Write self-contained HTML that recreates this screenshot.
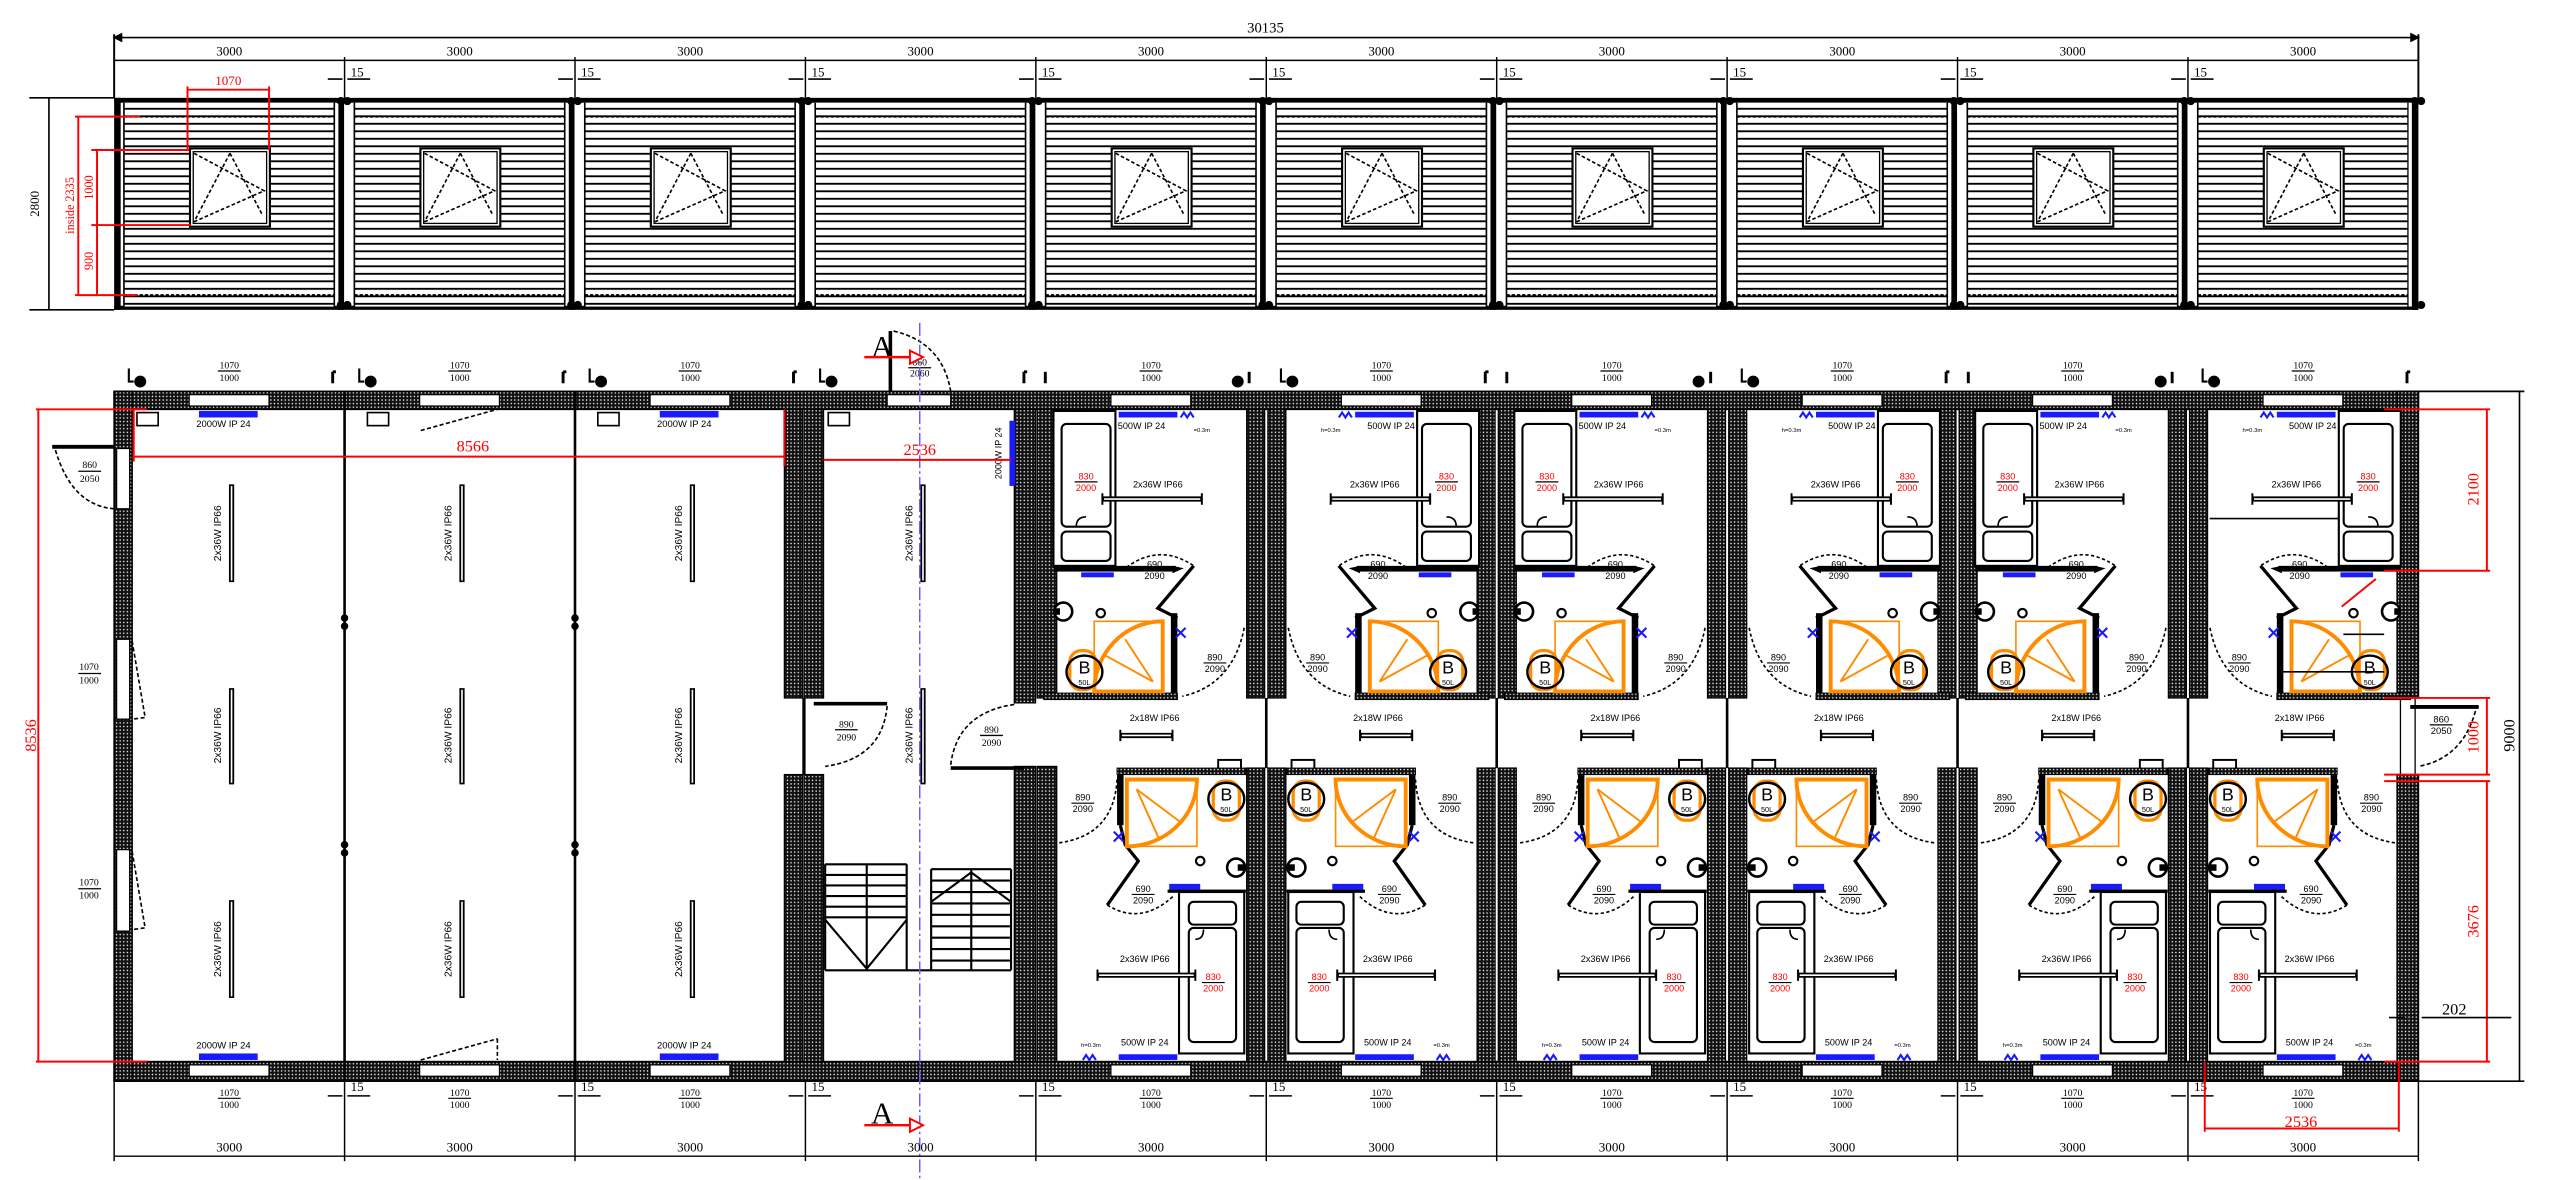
<!DOCTYPE html>
<html><head><meta charset="utf-8"><style>
html,body{margin:0;padding:0;background:#fff;}
svg{display:block;}
.s{font-family:"Liberation Serif",serif;}
.a{font-family:"Liberation Sans",sans-serif;}
</style></head><body>
<svg width="2557" height="1180" viewBox="0 0 1568 723.6" preserveAspectRatio="none" xmlns="http://www.w3.org/2000/svg">
<defs>
<pattern id="wd" width="2.2" height="2.2" patternUnits="userSpaceOnUse"><rect width="2.2" height="2.2" fill="#111"/><circle cx="1.1" cy="1.1" r="0.45" fill="#fff"/></pattern>
<pattern id="hl" width="10" height="4.6" patternUnits="userSpaceOnUse"><rect width="10" height="4.6" fill="#fff"/><line x1="0" y1="2.3" x2="10" y2="2.3" stroke="#000" stroke-width="1.1"/></pattern>
<g id="em">
<rect x="76" y="63" width="129" height="125" fill="url(#hl)"/>
<line x1="76" y1="71.5" x2="205" y2="71.5" stroke="#000" stroke-width="1.3" stroke-dasharray="2,1.2"/>
<line x1="76" y1="181" x2="205" y2="181" stroke="#000" stroke-width="1.3" stroke-dasharray="2,1.2"/>
<line x1="76" y1="63" x2="76" y2="188" stroke="#000" stroke-width="1"/>
<line x1="205" y1="63" x2="205" y2="188" stroke="#000" stroke-width="1"/>
<rect x="207.5" y="60" width="3.5" height="130" fill="#000"/>
<circle cx="209" cy="62" r="2.5" fill="#000"/><circle cx="209" cy="187" r="2.5" fill="#000"/>
<circle cx="213" cy="62" r="2.5" fill="#000"/><circle cx="213" cy="187" r="2.5" fill="#000"/>
</g>
<g id="win">
<rect x="116.5" y="91" width="49" height="48" fill="#fff" stroke="#000" stroke-width="1.3"/>
<rect x="118.5" y="93" width="45" height="44" fill="#fff" stroke="#000" stroke-width="0.8"/>
<g stroke="#000" stroke-width="1" stroke-dasharray="2.2,1.4" fill="none">
<path d="M141,94 L119,136 M141,94 L161,132 M119,94 L162,117 L119,136"/>
</g>
</g>
<g id="fx"><rect x="0" y="-1.3" width="1" height="2.6" fill="#fff" stroke="#000" stroke-width="1"/></g>
<g id="pod">
<!-- upper -->
<rect x="646" y="252" width="38" height="95" fill="#fff" stroke="#000" stroke-width="1.3"/>
<rect x="651" y="260" width="30" height="63" rx="3" fill="none" stroke="#000" stroke-width="1.3"/>
<rect x="651" y="326" width="30" height="18" rx="3" fill="none" stroke="#000" stroke-width="1.3"/>
<path d="M660,323 q0,-6 6,-6" fill="none" stroke="#000" stroke-width="1"/>
<rect x="686" y="252.5" width="36" height="3.5" fill="#1a1aff"/>
<path d="M724,256 l2,-3 l2,3 l2,-3 l2,3" fill="none" stroke="#1a1aff" stroke-width="1.3"/>
<rect x="646" y="347" width="75" height="3.5" fill="#000"/>
<path d="M719,347 l7,1.5 l-7,3 z" fill="#000"/>
<rect x="663" y="351" width="20" height="3" fill="#1a1aff"/>
<rect x="718" y="376" width="4" height="52" fill="#000"/>
<rect x="640" y="425" width="82" height="4" fill="url(#wd)" stroke="#000" stroke-width="0.6"/>
<polyline points="722,379 710,373 732,347" fill="none" stroke="#000" stroke-width="2"/>
<path d="M688,350 Q710,332 732,347" fill="none" stroke="#000" stroke-width="1" stroke-dasharray="2,1.5"/>
<circle cx="652" cy="375" r="5.5" fill="#fff" stroke="#000" stroke-width="1.6"/>
<rect x="646" y="373" width="4" height="4" fill="#000"/>
<circle cx="675" cy="376" r="2.6" fill="none" stroke="#000" stroke-width="1.3"/>
<rect x="671" y="381" width="42" height="43" fill="none" stroke="#ff8c00" stroke-width="1"/>
<path d="M713,424 L671,424 A42,43 0 0 1 713,381 Z" fill="none" stroke="#ff8c00" stroke-width="2.4"/>
<path d="M707,418 L690,392 M707,418 L678,402" stroke="#ff8c00" stroke-width="1.2"/>
<rect x="656" y="399" width="16" height="24" rx="7" fill="none" stroke="#ff8c00" stroke-width="2"/>
<ellipse cx="665" cy="412" rx="11" ry="10" fill="none" stroke="#000" stroke-width="1.5"/>
<path d="M721,385 l6,6 M727,385 l-6,6" stroke="#1a1aff" stroke-width="1.3"/>
<path d="M763,385 Q756,420 725,427" fill="none" stroke="#000" stroke-width="1" stroke-dasharray="2,1.5"/>
<line x1="676" y1="306" x2="737" y2="306" stroke="#000" stroke-width="3.2"/>
<line x1="677" y1="306" x2="736" y2="306" stroke="#fff" stroke-width="1"/>
<path d="M676,302.5 v7 M737,302.5 v7" stroke="#000" stroke-width="1.2"/>
<!-- corridor fixture -->
<line x1="687" y1="451" x2="719" y2="451" stroke="#000" stroke-width="3.2"/>
<line x1="688" y1="451" x2="718" y2="451" stroke="#fff" stroke-width="1"/>
<path d="M687,447.5 v7 M719,447.5 v7" stroke="#000" stroke-width="1.2"/>
<!-- lower -->
<rect x="747" y="466" width="14" height="6" fill="#fff" stroke="#000" stroke-width="1.2"/>
<rect x="685" y="471" width="79" height="4" fill="url(#wd)" stroke="#000" stroke-width="0.6"/>
<rect x="685" y="475" width="4" height="31" fill="#000"/>
<polyline points="687,506 690,518 698,528 679,555" fill="none" stroke="#000" stroke-width="2"/>
<path d="M679,555 Q700,568 720,549" fill="none" stroke="#000" stroke-width="1" stroke-dasharray="2,1.5"/>
<rect x="691" y="478" width="43" height="41" fill="none" stroke="#ff8c00" stroke-width="1"/>
<path d="M691,478 L734,478 A43,41 0 0 1 691,519 Z" fill="none" stroke="#ff8c00" stroke-width="2.4"/>
<path d="M697,484 L725,505 M697,484 L711,515" stroke="#ff8c00" stroke-width="1.2"/>
<rect x="744" y="479" width="16" height="24" rx="7" fill="none" stroke="#ff8c00" stroke-width="2"/>
<ellipse cx="752" cy="490" rx="11" ry="10" fill="none" stroke="#000" stroke-width="1.5"/>
<circle cx="758" cy="532" r="5.5" fill="#fff" stroke="#000" stroke-width="1.6"/>
<rect x="759" y="530" width="4" height="4" fill="#000"/>
<circle cx="736" cy="528" r="2.6" fill="none" stroke="#000" stroke-width="1.3"/>
<path d="M683,510 l6,6 M689,510 l-6,6" stroke="#1a1aff" stroke-width="1.3"/>
<rect x="717" y="542" width="19" height="3.5" fill="#1a1aff"/>
<rect x="716" y="545.5" width="48" height="2" fill="#000"/>
<rect x="723" y="547" width="40" height="99" fill="#fff" stroke="#000" stroke-width="1.3"/>
<rect x="729" y="553" width="29" height="14" rx="3" fill="none" stroke="#000" stroke-width="1.3"/>
<rect x="729" y="569" width="29" height="70" rx="3" fill="none" stroke="#000" stroke-width="1.3"/>
<path d="M738,570 q0,6 -5,6" fill="none" stroke="#000" stroke-width="1"/>
<path d="M685,478 Q683,513 648,517" fill="none" stroke="#000" stroke-width="1" stroke-dasharray="2,1.5"/>
<line x1="673" y1="598" x2="733" y2="598" stroke="#000" stroke-width="3.2"/>
<line x1="674" y1="598" x2="732" y2="598" stroke="#fff" stroke-width="1"/>
<path d="M673,594.5 v7 M733,594.5 v7" stroke="#000" stroke-width="1.2"/>
<rect x="686" y="646.5" width="36" height="3.5" fill="#1a1aff"/>
<path d="M664,650 l2,-3 l2,3 l2,-3 l2,3" fill="none" stroke="#1a1aff" stroke-width="1.3"/>
</g>
<marker id="ar" markerWidth="6" markerHeight="6" refX="5" refY="3" orient="auto"><path d="M0,0 L6,3 L0,6 z" fill="#000"/></marker>
<marker id="al" markerWidth="6" markerHeight="6" refX="1" refY="3" orient="auto"><path d="M6,0 L0,3 L6,6 z" fill="#000"/></marker>
<marker id="rr" markerWidth="6" markerHeight="6" refX="5" refY="3" orient="auto"><path d="M0,0 L6,3 L0,6 z" fill="#f00"/></marker>
<marker id="rl" markerWidth="6" markerHeight="6" refX="1" refY="3" orient="auto"><path d="M6,0 L0,3 L6,6 z" fill="#f00"/></marker>
</defs>

<!-- ============ TOP DIMENSIONS ============ -->
<text x="776" y="20" class="s" font-size="9" text-anchor="middle">30135</text>
<line x1="70" y1="23" x2="1483" y2="23" stroke="#000" stroke-width="1" marker-start="url(#al)" marker-end="url(#ar)"/>
<line x1="70" y1="21" x2="70" y2="60" stroke="#000" stroke-width="1.2"/>
<line x1="1483" y1="21" x2="1483" y2="60" stroke="#000" stroke-width="1.2"/>
<g stroke="#000" stroke-width="0.9">
<line x1="70" y1="37" x2="1483" y2="37"/>
<line x1="211.3" y1="35" x2="211.3" y2="60"/><line x1="352.6" y1="35" x2="352.6" y2="60"/><line x1="493.9" y1="35" x2="493.9" y2="60"/><line x1="635.2" y1="35" x2="635.2" y2="60"/><line x1="776.5" y1="35" x2="776.5" y2="60"/><line x1="917.8" y1="35" x2="917.8" y2="60"/><line x1="1059.1" y1="35" x2="1059.1" y2="60"/><line x1="1200.4" y1="35" x2="1200.4" y2="60"/><line x1="1341.7" y1="35" x2="1341.7" y2="60"/>
</g>
<g class="s" font-size="8" text-anchor="middle">
<text x="140.6" y="34">3000</text><text x="281.9" y="34">3000</text><text x="423.2" y="34">3000</text><text x="564.5" y="34">3000</text><text x="705.8" y="34">3000</text><text x="847.1" y="34">3000</text><text x="988.4" y="34">3000</text><text x="1129.7" y="34">3000</text><text x="1271" y="34">3000</text><text x="1412.3" y="34">3000</text>
</g>
<g class="s" font-size="8" text-anchor="middle">
<text x="219" y="47">15</text><text x="360.3" y="47">15</text><text x="501.6" y="47">15</text><text x="642.9" y="47">15</text><text x="784.2" y="47">15</text><text x="925.5" y="47">15</text><text x="1066.8" y="47">15</text><text x="1208.1" y="47">15</text><text x="1349.4" y="47">15</text>
</g>
<g stroke="#000" stroke-width="1">
<path d="M201,48.5 h9 M213,48.5 h14"/><path d="M342.3,48.5 h9 M354.3,48.5 h14"/><path d="M483.6,48.5 h9 M495.6,48.5 h14"/><path d="M624.9,48.5 h9 M636.9,48.5 h14"/><path d="M766.2,48.5 h9 M778.2,48.5 h14"/><path d="M907.5,48.5 h9 M919.5,48.5 h14"/><path d="M1048.8,48.5 h9 M1060.8,48.5 h14"/><path d="M1190.1,48.5 h9 M1202.1,48.5 h14"/><path d="M1331.4,48.5 h9 M1343.4,48.5 h14"/>
</g>

<!-- ============ ELEVATION ============ -->
<rect x="70" y="60" width="1413" height="3" fill="#000"/>
<rect x="70" y="187.5" width="1413" height="2.5" fill="#000"/>
<rect x="70" y="60" width="4" height="130" fill="#000"/>
<rect x="1479" y="60" width="4" height="130" fill="#000"/>
<use href="#em"/>
<use href="#em" transform="translate(141.3,0)"/>
<use href="#em" transform="translate(282.6,0)"/>
<use href="#em" transform="translate(423.9,0)"/>
<use href="#em" transform="translate(565.2,0)"/>
<use href="#em" transform="translate(706.5,0)"/>
<use href="#em" transform="translate(847.8,0)"/>
<use href="#em" transform="translate(989.1,0)"/>
<use href="#em" transform="translate(1130.4,0)"/>
<use href="#em" transform="translate(1271.7,0)"/>
<rect x="1477" y="63" width="6" height="125" fill="#fff"/>
<rect x="1479" y="60" width="4" height="130" fill="#000"/>
<use href="#win"/>
<use href="#win" transform="translate(141.3,0)"/>
<use href="#win" transform="translate(282.6,0)"/>
<use href="#win" transform="translate(565.2,0)"/>
<use href="#win" transform="translate(706.5,0)"/>
<use href="#win" transform="translate(847.8,0)"/>
<use href="#win" transform="translate(989.1,0)"/>
<use href="#win" transform="translate(1130.4,0)"/>
<use href="#win" transform="translate(1271.7,0)"/>
<!-- elevation dims -->
<line x1="30" y1="60" x2="30" y2="190" stroke="#000" stroke-width="1"/>
<line x1="18" y1="60" x2="70" y2="60" stroke="#000" stroke-width="1"/>
<line x1="18" y1="190" x2="70" y2="190" stroke="#000" stroke-width="1"/>
<text transform="translate(24,125) rotate(-90)" class="s" font-size="8" text-anchor="middle">2800</text>
<g stroke="#f00" stroke-width="1.2" fill="none">
<path d="M115,92 V53 M165,92 V53 M115,55 H165"/>
<path d="M46,71.5 H86 M56,92 H116 M56,138 H117 M46,181 H84"/>
<path d="M48,71.5 V181 M59.5,92 V181"/>
</g>
<text x="140" y="52" class="s" font-size="8" fill="#f00" text-anchor="middle">1070</text>
<text transform="translate(45.5,126) rotate(-90)" class="s" font-size="7.5" fill="#f00" text-anchor="middle">inside 2335</text>
<text transform="translate(57,115) rotate(-90)" class="s" font-size="7.5" fill="#f00" text-anchor="middle">1000</text>
<text transform="translate(57,160) rotate(-90)" class="s" font-size="7.5" fill="#f00" text-anchor="middle">900</text>

<!-- ============ PLAN ============ -->
<!-- outer walls -->
<rect x="70" y="240" width="1413" height="11" fill="url(#wd)" stroke="#000" stroke-width="1"/>
<rect x="70" y="651" width="1413" height="12" fill="url(#wd)" stroke="#000" stroke-width="1"/>
<rect x="70" y="240" width="11" height="423" fill="url(#wd)" stroke="#000" stroke-width="1"/>
<rect x="1470" y="240" width="13" height="188" fill="url(#wd)" stroke="#000" stroke-width="1"/>
<rect x="1470" y="475" width="13" height="188" fill="url(#wd)" stroke="#000" stroke-width="1"/>
<!-- stair walls -->
<rect x="481" y="251" width="11" height="177" fill="url(#wd)" stroke="#000" stroke-width="0.8"/>
<rect x="493" y="251" width="12" height="177" fill="url(#wd)" stroke="#000" stroke-width="0.8"/>
<rect x="481" y="475" width="11" height="176" fill="url(#wd)" stroke="#000" stroke-width="0.8"/>
<rect x="493" y="475" width="12" height="176" fill="url(#wd)" stroke="#000" stroke-width="0.8"/>
<rect x="492" y="428" width="2" height="47" fill="#000"/>
<rect x="622" y="251" width="13" height="180" fill="url(#wd)" stroke="#000" stroke-width="0.8"/>
<rect x="636" y="251" width="12" height="177" fill="url(#wd)" stroke="#000" stroke-width="0.8"/>
<rect x="622" y="470" width="13" height="181" fill="url(#wd)" stroke="#000" stroke-width="0.8"/>
<rect x="636" y="470" width="12" height="181" fill="url(#wd)" stroke="#000" stroke-width="0.8"/>
<!-- thick module walls -->
<g fill="url(#wd)" stroke="#000" stroke-width="0.8">
<rect x="764.5" y="251" width="11" height="177"/><rect x="777.5" y="251" width="11" height="177"/><rect x="764.5" y="471" width="11" height="180"/><rect x="777.5" y="471" width="11" height="180"/>
<rect x="905.8" y="251" width="11" height="177"/><rect x="918.8" y="251" width="11" height="177"/><rect x="905.8" y="471" width="11" height="180"/><rect x="918.8" y="471" width="11" height="180"/>
<rect x="1047.1" y="251" width="11" height="177"/><rect x="1060.1" y="251" width="11" height="177"/><rect x="1047.1" y="471" width="11" height="180"/><rect x="1060.1" y="471" width="11" height="180"/>
<rect x="1188.4" y="251" width="11" height="177"/><rect x="1201.4" y="251" width="11" height="177"/><rect x="1188.4" y="471" width="11" height="180"/><rect x="1201.4" y="471" width="11" height="180"/>
<rect x="1329.7" y="251" width="11" height="177"/><rect x="1342.7" y="251" width="11" height="177"/><rect x="1329.7" y="471" width="11" height="180"/><rect x="1342.7" y="471" width="11" height="180"/>
</g>
<g stroke="#000" stroke-width="1.6">
<line x1="211.3" y1="240" x2="211.3" y2="663"/><line x1="352.6" y1="240" x2="352.6" y2="663"/>
<line x1="776.5" y1="428" x2="776.5" y2="471"/><line x1="917.8" y1="428" x2="917.8" y2="471"/><line x1="1059.1" y1="428" x2="1059.1" y2="471"/><line x1="1200.4" y1="428" x2="1200.4" y2="471"/><line x1="1341.7" y1="428" x2="1341.7" y2="471"/>
</g>
<g fill="#000">
<circle cx="211.3" cy="379" r="2.3"/><circle cx="211.3" cy="384" r="2.3"/><circle cx="211.3" cy="518" r="2.3"/><circle cx="211.3" cy="523" r="2.3"/>
<circle cx="352.6" cy="379" r="2.3"/><circle cx="352.6" cy="384" r="2.3"/><circle cx="352.6" cy="518" r="2.3"/><circle cx="352.6" cy="523" r="2.3"/>
</g>
<!-- top wall windows -->
<g fill="#fff" stroke="#000" stroke-width="0.8">
<rect x="116" y="242" width="49" height="7"/><rect x="257.3" y="242" width="49" height="7"/><rect x="398.6" y="242" width="49" height="7"/><rect x="544" y="242" width="39" height="7"/>
<rect x="681.2" y="242" width="49" height="7"/><rect x="822.5" y="242" width="49" height="7"/><rect x="963.8" y="242" width="49" height="7"/><rect x="1105.1" y="242" width="49" height="7"/><rect x="1246.4" y="242" width="49" height="7"/><rect x="1387.7" y="242" width="49" height="7"/>
<rect x="116" y="653" width="49" height="7"/><rect x="257.3" y="653" width="49" height="7"/><rect x="398.6" y="653" width="49" height="7"/>
<rect x="681.2" y="653" width="49" height="7"/><rect x="822.5" y="653" width="49" height="7"/><rect x="963.8" y="653" width="49" height="7"/><rect x="1105.1" y="653" width="49" height="7"/><rect x="1246.4" y="653" width="49" height="7"/><rect x="1387.7" y="653" width="49" height="7"/>
<rect x="71.5" y="275" width="8" height="37"/><rect x="71.5" y="392" width="8" height="49"/><rect x="71.5" y="521" width="8" height="50"/>
<rect x="1472" y="428" width="9" height="47"/>
</g>
<!-- left doors/windows -->
<line x1="32" y1="274" x2="70" y2="274" stroke="#000" stroke-width="2.4"/>
<path d="M34,276 Q44,310 70,312" fill="none" stroke="#000" stroke-width="1" stroke-dasharray="2.5,1.5"/>
<path d="M81,393 L89,440 L81,441 M81,522 L89,569 L81,570" fill="none" stroke="#000" stroke-width="1" stroke-dasharray="2.5,1.5"/>
<g class="s" font-size="6" text-anchor="middle">
<text x="55" y="287">860</text><text x="55" y="295.5">2050</text>
<text x="54.6" y="411">1070</text><text x="54.6" y="419">1000</text>
<text x="54.6" y="543">1070</text><text x="54.6" y="551">1000</text>
</g>
<path d="M48,289 h14 M48,413 h14 M48,545 h14" stroke="#000" stroke-width="0.8"/>
<!-- right door -->
<line x1="1478" y1="433.5" x2="1520" y2="433.5" stroke="#000" stroke-width="2.4"/>
<path d="M1518,436 Q1510,465 1483,470" fill="none" stroke="#000" stroke-width="1" stroke-dasharray="2.5,1.5"/>
<text x="1497" y="443" class="a" font-size="5.8" text-anchor="middle">860</text><text x="1497" y="450" class="a" font-size="5.8" text-anchor="middle">2050</text>
<line x1="1490" y1="444.5" x2="1504" y2="444.5" stroke="#000" stroke-width="0.8"/>

<!-- rooms 0-2 items -->
<g fill="#1a1aff">
<rect x="122" y="252" width="36" height="4"/><rect x="404.6" y="252" width="36" height="4"/>
<rect x="122" y="646" width="36" height="4"/><rect x="404.6" y="646" width="36" height="4"/>
<rect x="619" y="258" width="3.5" height="40"/>
</g>
<g fill="#fff" stroke="#000" stroke-width="1">
<rect x="84" y="253" width="13" height="8"/><rect x="225.3" y="253" width="13" height="8"/><rect x="366.6" y="253" width="13" height="8"/><rect x="507.9" y="253" width="13" height="8"/>
</g>
<path d="M258,264 L305,251 M258,650 L305,637 M305,637 v13" fill="none" stroke="#000" stroke-width="1" stroke-dasharray="2.5,1.5"/>
<g class="a" font-size="5.8" text-anchor="middle">
<text x="137" y="262">2000W  IP 24</text><text x="419.6" y="262">2000W  IP 24</text>
<text x="137" y="643">2000W  IP 24</text><text x="419.6" y="643">2000W  IP 24</text>
</g>
<text transform="translate(614,278) rotate(-90)" class="a" font-size="5.5" text-anchor="middle">2000W  IP 24</text>
<!-- vertical fixtures -->
<g stroke="#000">
<g stroke-width="3.2"><path d="M142,297 V357 M142,422 V481 M142,552 V612 M283.3,297 V357 M283.3,422 V481 M283.3,552 V612 M424.6,297 V357 M424.6,422 V481 M424.6,552 V612 M566,297 V357 M566,422 V481"/></g>
<g stroke="#fff" stroke-width="1"><path d="M142,298 V356 M142,423 V480 M142,553 V611 M283.3,298 V356 M283.3,423 V480 M283.3,553 V611 M424.6,298 V356 M424.6,423 V480 M424.6,553 V611 M566,298 V356 M566,423 V480"/></g>
</g>
<g class="a" font-size="6.3" text-anchor="middle">
<text transform="translate(135.5,327) rotate(-90)">2x36W   IP66</text><text transform="translate(135.5,451) rotate(-90)">2x36W   IP66</text><text transform="translate(135.5,582) rotate(-90)">2x36W   IP66</text>
<text transform="translate(276.8,327) rotate(-90)">2x36W   IP66</text><text transform="translate(276.8,451) rotate(-90)">2x36W   IP66</text><text transform="translate(276.8,582) rotate(-90)">2x36W   IP66</text>
<text transform="translate(418.1,327) rotate(-90)">2x36W   IP66</text><text transform="translate(418.1,451) rotate(-90)">2x36W   IP66</text><text transform="translate(418.1,582) rotate(-90)">2x36W   IP66</text>
<text transform="translate(559.5,327) rotate(-90)">2x36W   IP66</text><text transform="translate(559.5,451) rotate(-90)">2x36W   IP66</text>
</g>
<!-- stair doors -->
<line x1="499" y1="431.5" x2="544" y2="431.5" stroke="#000" stroke-width="2.2"/>
<path d="M544,433 Q541,465 506,470" fill="none" stroke="#000" stroke-width="1" stroke-dasharray="2.5,1.5"/>
<line x1="583" y1="471" x2="628" y2="471" stroke="#000" stroke-width="2.2"/>
<path d="M583,469 Q587,437 622,432" fill="none" stroke="#000" stroke-width="1" stroke-dasharray="2.5,1.5"/>
<g class="s" font-size="6" text-anchor="middle">
<text x="519" y="446">890</text><text x="519" y="454">2090</text>
<text x="608" y="449.6">890</text><text x="608" y="457.6">2090</text>
<text x="564" y="224">860</text><text x="564" y="231">2060</text>
</g>
<path d="M512,447.5 h14 M601,451 h14 M557,225.5 h14" stroke="#000" stroke-width="0.8"/>
<!-- stairs -->
<g stroke="#000" stroke-width="1.3" fill="none">
<path d="M506,530 V595 M531.5,530 V595 M556,530 V595 M571,533 V595 M595.6,533 V595 M620,533 V595"/>
<path d="M506,530 H556 M506,536.5 H556 M506,543 H556 M506,549.5 H556 M506,556 H556 M506,562.5 H556"/>
<path d="M571,533 H620 M571,540 H620 M571,547 H620 M571,554 H620 M571,561 H620 M571,568 H620 M571,575 H620 M571,582 H620 M571,589 H620"/>
<path d="M506,564 L531.5,594 L556,564 M571,553 L595.6,535 L620,553"/>
<path d="M506,595 H620"/>
</g>
<!-- top door module 3 -->
<line x1="546" y1="203" x2="546" y2="240" stroke="#000" stroke-width="2.2"/>
<path d="M548,203 Q578,210 583,240" fill="none" stroke="#000" stroke-width="1" stroke-dasharray="2.5,1.5"/>
<!-- section A -->
<line x1="564" y1="198" x2="564" y2="723" stroke="#6a5cff" stroke-width="0.9" stroke-dasharray="8,2,1.5,2"/>
<text x="541" y="219" class="s" font-size="19" text-anchor="middle">A</text>
<text x="541" y="689" class="s" font-size="19" text-anchor="middle">A</text>
<path d="M530,219 H559" stroke="#f00" stroke-width="1.5"/><path d="M558,215 L566,219 L558,223 Z" fill="#fff" stroke="#f00" stroke-width="1.2"/>
<path d="M530,690 H559" stroke="#f00" stroke-width="1.5"/><path d="M558,686 L566,690 L558,694 Z" fill="#fff" stroke="#f00" stroke-width="1.2"/>

<!-- pods -->
<use href="#pod"/>
<use href="#pod" transform="translate(1553,0) scale(-1,1)"/>
<use href="#pod" transform="translate(282.6,0)"/>
<use href="#pod" transform="translate(1835.6,0) scale(-1,1)"/>
<use href="#pod" transform="translate(565.2,0)"/>
<use href="#pod" transform="translate(2118.2,0) scale(-1,1)"/>

<!-- pod texts -->
<g class="a" font-size="5.6" text-anchor="middle">
<text x="700" y="263">500W  IP 24</text><text x="853" y="263">500W  IP 24</text><text x="982.6" y="263">500W  IP 24</text><text x="1135.6" y="263">500W  IP 24</text><text x="1265.2" y="263">500W  IP 24</text><text x="1418.2" y="263">500W  IP 24</text>
<text x="702" y="641">500W  IP 24</text><text x="851" y="641">500W  IP 24</text><text x="984.6" y="641">500W  IP 24</text><text x="1133.6" y="641">500W  IP 24</text><text x="1267.2" y="641">500W  IP 24</text><text x="1416.2" y="641">500W  IP 24</text>
<text x="710" y="299">2x36W  IP66</text><text x="843" y="299">2x36W  IP66</text><text x="992.6" y="299">2x36W  IP66</text><text x="1125.6" y="299">2x36W  IP66</text><text x="1275.2" y="299">2x36W  IP66</text><text x="1408.2" y="299">2x36W  IP66</text>
<text x="708" y="442">2x18W  IP66</text><text x="845" y="442">2x18W  IP66</text><text x="990.6" y="442">2x18W  IP66</text><text x="1127.6" y="442">2x18W  IP66</text><text x="1273.2" y="442">2x18W  IP66</text><text x="1410.2" y="442">2x18W  IP66</text>
<text x="702" y="590">2x36W  IP66</text><text x="851" y="590">2x36W  IP66</text><text x="984.6" y="590">2x36W  IP66</text><text x="1133.6" y="590">2x36W  IP66</text><text x="1267.2" y="590">2x36W  IP66</text><text x="1416.2" y="590">2x36W  IP66</text>
</g>
<g class="a" font-size="3.6" text-anchor="middle">
<text x="737" y="265">=0.3m</text><text x="816" y="265">h=0.3m</text><text x="1019.6" y="265">=0.3m</text><text x="1098.6" y="265">h=0.3m</text><text x="1302.2" y="265">=0.3m</text><text x="1381.2" y="265">h=0.3m</text>
<text x="669" y="642">h=0.3m</text><text x="884" y="642">=0.3m</text><text x="951.6" y="642">h=0.3m</text><text x="1166.6" y="642">=0.3m</text><text x="1234.2" y="642">h=0.3m</text><text x="1449.2" y="642">=0.3m</text>
</g>
<!-- fractions black -->
<g class="a" font-size="5.6" text-anchor="middle">
<text x="708" y="348">690</text><text x="708" y="355">2090</text><text x="845" y="348">690</text><text x="845" y="355">2090</text><text x="990.6" y="348">690</text><text x="990.6" y="355">2090</text><text x="1127.6" y="348">690</text><text x="1127.6" y="355">2090</text><text x="1273.2" y="348">690</text><text x="1273.2" y="355">2090</text><text x="1410.2" y="348">690</text><text x="1410.2" y="355">2090</text>
<text x="745" y="405">890</text><text x="745" y="412">2090</text><text x="808" y="405">890</text><text x="808" y="412">2090</text><text x="1027.6" y="405">890</text><text x="1027.6" y="412">2090</text><text x="1090.6" y="405">890</text><text x="1090.6" y="412">2090</text><text x="1310.2" y="405">890</text><text x="1310.2" y="412">2090</text><text x="1373.2" y="405">890</text><text x="1373.2" y="412">2090</text>
<text x="664" y="491">890</text><text x="664" y="498">2090</text><text x="889" y="491">890</text><text x="889" y="498">2090</text><text x="946.6" y="491">890</text><text x="946.6" y="498">2090</text><text x="1171.6" y="491">890</text><text x="1171.6" y="498">2090</text><text x="1229.2" y="491">890</text><text x="1229.2" y="498">2090</text><text x="1454.2" y="491">890</text><text x="1454.2" y="498">2090</text>
<text x="701" y="547">690</text><text x="701" y="554">2090</text><text x="852" y="547">690</text><text x="852" y="554">2090</text><text x="983.6" y="547">690</text><text x="983.6" y="554">2090</text><text x="1134.6" y="547">690</text><text x="1134.6" y="554">2090</text><text x="1266.2" y="547">690</text><text x="1266.2" y="554">2090</text><text x="1417.2" y="547">690</text><text x="1417.2" y="554">2090</text>
</g>
<g stroke="#000" stroke-width="0.7">
<path d="M701,349.5 h14 M838,349.5 h14 M983.6,349.5 h14 M1120.6,349.5 h14 M1266.2,349.5 h14 M1403.2,349.5 h14"/>
<path d="M738,406.5 h14 M801,406.5 h14 M1020.6,406.5 h14 M1083.6,406.5 h14 M1303.2,406.5 h14 M1366.2,406.5 h14"/>
<path d="M657,492.5 h14 M882,492.5 h14 M939.6,492.5 h14 M1164.6,492.5 h14 M1222.2,492.5 h14 M1447.2,492.5 h14"/>
<path d="M694,548.5 h14 M845,548.5 h14 M976.6,548.5 h14 M1127.6,548.5 h14 M1259.2,548.5 h14 M1410.2,548.5 h14"/>
</g>
<!-- red fractions -->
<g class="a" font-size="5.6" text-anchor="middle" fill="#f00">
<text x="666" y="294">830</text><text x="666" y="301">2000</text><text x="887" y="294">830</text><text x="887" y="301">2000</text><text x="948.6" y="294">830</text><text x="948.6" y="301">2000</text><text x="1169.6" y="294">830</text><text x="1169.6" y="301">2000</text><text x="1231.2" y="294">830</text><text x="1231.2" y="301">2000</text><text x="1452.2" y="294">830</text><text x="1452.2" y="301">2000</text>
<text x="744" y="601">830</text><text x="744" y="608">2000</text><text x="809" y="601">830</text><text x="809" y="608">2000</text><text x="1026.6" y="601">830</text><text x="1026.6" y="608">2000</text><text x="1091.6" y="601">830</text><text x="1091.6" y="608">2000</text><text x="1309.2" y="601">830</text><text x="1309.2" y="608">2000</text><text x="1374.2" y="601">830</text><text x="1374.2" y="608">2000</text>
</g>
<g stroke="#000" stroke-width="0.7">
<path d="M659,295.5 h14 M880,295.5 h14 M941.6,295.5 h14 M1162.6,295.5 h14 M1224.2,295.5 h14 M1445.2,295.5 h14"/>
<path d="M737,602.5 h14 M802,602.5 h14 M1019.6,602.5 h14 M1084.6,602.5 h14 M1302.2,602.5 h14 M1367.2,602.5 h14"/>
</g>
<!-- B circles -->
<g class="a" text-anchor="middle">
<g font-size="11"><text x="665" y="413">B</text><text x="888" y="413">B</text><text x="947.6" y="413">B</text><text x="1170.6" y="413">B</text><text x="1230.2" y="413">B</text><text x="1453.2" y="413">B</text>
<text x="752" y="491">B</text><text x="801" y="491">B</text><text x="1034.6" y="491">B</text><text x="1083.6" y="491">B</text><text x="1317.2" y="491">B</text><text x="1366.2" y="491">B</text></g>
<g font-size="4.5"><text x="665" y="420">50L</text><text x="888" y="420">50L</text><text x="947.6" y="420">50L</text><text x="1170.6" y="420">50L</text><text x="1230.2" y="420">50L</text><text x="1453.2" y="420">50L</text>
<text x="752" y="498">50L</text><text x="801" y="498">50L</text><text x="1034.6" y="498">50L</text><text x="1083.6" y="498">50L</text><text x="1317.2" y="498">50L</text><text x="1366.2" y="498">50L</text></g>
</g>
<!-- module 9 extras -->
<path d="M1436,372 L1457,355" stroke="#f00" stroke-width="1.2"/>
<path d="M1355,318 H1434" stroke="#000" stroke-width="1"/>
<path d="M1437,389 H1462 M1399,412 H1462" stroke="#000" stroke-width="1"/>

<!-- symbols top -->
<g fill="#000" stroke="#000" stroke-width="1.3">
<path d="M79,226 v8 h3" fill="none"/><circle cx="86" cy="234" r="3"/><path d="M204,228 v7 M204,228 h2" fill="none" stroke-width="1.8"/>
<path d="M220.3,226 v8 h3" fill="none"/><circle cx="227.3" cy="234" r="3"/><path d="M345.3,228 v7 M345.3,228 h2" fill="none" stroke-width="1.8"/>
<path d="M361.6,226 v8 h3" fill="none"/><circle cx="368.6" cy="234" r="3"/><path d="M486.6,228 v7 M486.6,228 h2" fill="none" stroke-width="1.8"/>
<path d="M502.9,226 v8 h3" fill="none"/><circle cx="509.9" cy="234" r="3"/><path d="M627.9,228 v7 M627.9,228 h2" fill="none" stroke-width="1.8"/>
<path d="M641,228 v7" fill="none" stroke-width="1.8"/><circle cx="759" cy="234" r="3"/><path d="M766,228 v7" fill="none" stroke-width="1.8"/>
<path d="M785.5,226 v8 h3" fill="none"/><circle cx="792.5" cy="234" r="3"/><path d="M910.8,228 v7 M910.8,228 h2" fill="none" stroke-width="1.8"/>
<path d="M924,228 v7" fill="none" stroke-width="1.8"/><circle cx="1041.6" cy="234" r="3"/><path d="M1049,228 v7" fill="none" stroke-width="1.8"/>
<path d="M1068.1,226 v8 h3" fill="none"/><circle cx="1075.1" cy="234" r="3"/><path d="M1193.4,228 v7 M1193.4,228 h2" fill="none" stroke-width="1.8"/>
<path d="M1207,228 v7" fill="none" stroke-width="1.8"/><circle cx="1325" cy="234" r="3"/><path d="M1332,228 v7" fill="none" stroke-width="1.8"/>
<path d="M1350.7,226 v8 h3" fill="none"/><circle cx="1357.7" cy="234" r="3"/><path d="M1476,228 v7 M1476,228 h2" fill="none" stroke-width="1.8"/>
</g>
<!-- 1070/1000 labels top & bottom -->
<g class="s" font-size="6" text-anchor="middle">
<text x="140.6" y="226">1070</text><text x="140.6" y="233.5">1000</text><text x="281.9" y="226">1070</text><text x="281.9" y="233.5">1000</text><text x="423.2" y="226">1070</text><text x="423.2" y="233.5">1000</text><text x="705.8" y="226">1070</text><text x="705.8" y="233.5">1000</text><text x="847.1" y="226">1070</text><text x="847.1" y="233.5">1000</text><text x="988.4" y="226">1070</text><text x="988.4" y="233.5">1000</text><text x="1129.7" y="226">1070</text><text x="1129.7" y="233.5">1000</text><text x="1271" y="226">1070</text><text x="1271" y="233.5">1000</text><text x="1412.3" y="226">1070</text><text x="1412.3" y="233.5">1000</text>
<text x="140.6" y="672">1070</text><text x="140.6" y="679.5">1000</text><text x="281.9" y="672">1070</text><text x="281.9" y="679.5">1000</text><text x="423.2" y="672">1070</text><text x="423.2" y="679.5">1000</text><text x="705.8" y="672">1070</text><text x="705.8" y="679.5">1000</text><text x="847.1" y="672">1070</text><text x="847.1" y="679.5">1000</text><text x="988.4" y="672">1070</text><text x="988.4" y="679.5">1000</text><text x="1129.7" y="672">1070</text><text x="1129.7" y="679.5">1000</text><text x="1271" y="672">1070</text><text x="1271" y="679.5">1000</text><text x="1412.3" y="672">1070</text><text x="1412.3" y="679.5">1000</text>
</g>
<g stroke="#000" stroke-width="0.7">
<path d="M133.6,227.5 h14 M274.9,227.5 h14 M416.2,227.5 h14 M698.8,227.5 h14 M840.1,227.5 h14 M981.4,227.5 h14 M1122.7,227.5 h14 M1264,227.5 h14 M1405.3,227.5 h14"/>
<path d="M133.6,673.5 h14 M274.9,673.5 h14 M416.2,673.5 h14 M698.8,673.5 h14 M840.1,673.5 h14 M981.4,673.5 h14 M1122.7,673.5 h14 M1264,673.5 h14 M1405.3,673.5 h14"/>
</g>
<!-- bottom dims -->
<g stroke="#000" stroke-width="0.9">
<path d="M70,663 V712 M211.3,663 V712 M352.6,663 V712 M493.9,663 V712 M635.2,663 V712 M776.5,663 V712 M917.8,663 V712 M1059.1,663 V712 M1200.4,663 V712 M1341.7,663 V712 M1483,663 V712"/>
<line x1="70" y1="709" x2="1483" y2="709"/>
<path d="M201,672 h9 M213,672 h14 M342.3,672 h9 M354.3,672 h14 M483.6,672 h9 M495.6,672 h14 M624.9,672 h9 M636.9,672 h14 M766.2,672 h9 M778.2,672 h14 M907.5,672 h9 M919.5,672 h14 M1048.8,672 h9 M1060.8,672 h14 M1190.1,672 h9 M1202.1,672 h14 M1331.4,672 h9 M1343.4,672 h14"/>
</g>
<g class="s" font-size="8" text-anchor="middle">
<text x="219" y="669">15</text><text x="360.3" y="669">15</text><text x="501.6" y="669">15</text><text x="642.9" y="669">15</text><text x="784.2" y="669">15</text><text x="925.5" y="669">15</text><text x="1066.8" y="669">15</text><text x="1208.1" y="669">15</text><text x="1349.4" y="669">15</text>
<text x="140.6" y="706">3000</text><text x="281.9" y="706">3000</text><text x="423.2" y="706">3000</text><text x="564.5" y="706">3000</text><text x="705.8" y="706">3000</text><text x="847.1" y="706">3000</text><text x="988.4" y="706">3000</text><text x="1129.7" y="706">3000</text><text x="1271" y="706">3000</text><text x="1412.3" y="706">3000</text>
</g>
<!-- red plan dims -->
<g stroke="#f00" stroke-width="1.2" fill="none">
<path d="M22,251 H90 M22,651 H90 M23.5,251 V651"/>
<path d="M82,251 V283 M481,251 V286 M82,280 H481"/>
<path d="M505,282 H620"/>
<path d="M1462,251 H1527 M1462,350 H1527 M1462,428 H1527 M1462,475 H1527 M1462,479 H1527 M1462,651 H1527"/>
<path d="M1525,251 V350 M1525,428 V475 M1525,479 V651"/>
<path d="M1352,651 V694 M1471,651 V694 M1352,692 H1471"/>
</g>
<text transform="translate(22,451) rotate(-90)" class="s" font-size="10" fill="#f00" text-anchor="middle">8536</text>
<text x="290" y="277" class="s" font-size="10" fill="#f00" text-anchor="middle">8566</text>
<text x="564" y="279" class="s" font-size="10" fill="#f00" text-anchor="middle">2536</text>
<text transform="translate(1520,300) rotate(-90)" class="s" font-size="10" fill="#f00" text-anchor="middle">2100</text>
<text transform="translate(1520,452) rotate(-90)" class="s" font-size="10" fill="#f00" text-anchor="middle">1000</text>
<text transform="translate(1520,565) rotate(-90)" class="s" font-size="10" fill="#f00" text-anchor="middle">3676</text>
<text x="1411" y="691" class="s" font-size="10" fill="#f00" text-anchor="middle">2536</text>
<!-- 9000 -->
<g stroke="#000" stroke-width="1">
<path d="M1483,240 H1548 M1483,663 H1548 M1545,240 V663"/>
<path d="M1465,624 H1475 M1485,624 H1540"/>
</g>
<text transform="translate(1542,451) rotate(-90)" class="s" font-size="10" text-anchor="middle">9000</text>
<text x="1505" y="622" class="s" font-size="10" text-anchor="middle">202</text>
</svg>
</body></html>
